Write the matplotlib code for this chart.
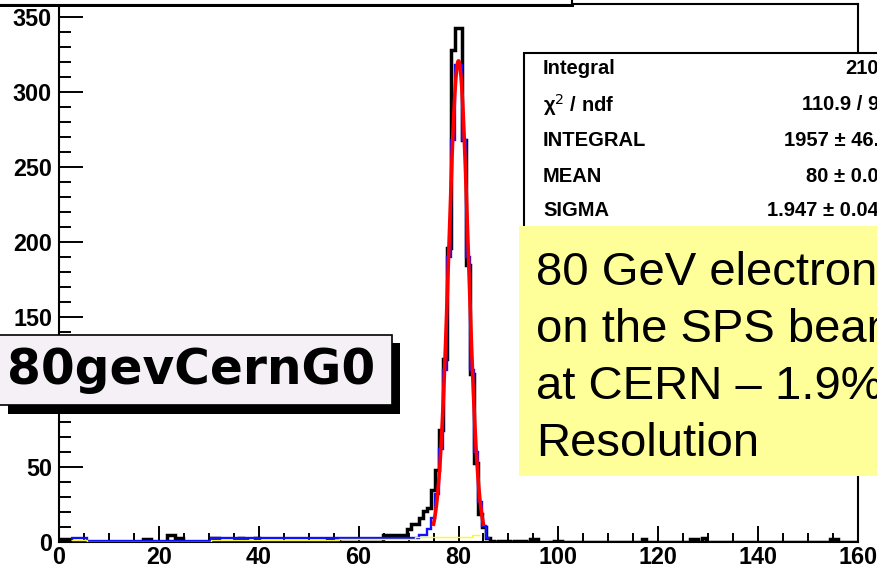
import numpy as np
import matplotlib
matplotlib.use("Agg")
import matplotlib.pyplot as plt
from matplotlib.patches import Rectangle
from matplotlib.ticker import MultipleLocator
from matplotlib.font_manager import FontProperties

# energy histogram: 200 bins of 0.8 GeV between 0 and 160
n_bins = 200
x_min, x_max = 0.0, 160.0

# non-empty bins (bin index -> entries)
filled_bins = [0, 1, 2, 21, 22, 27, 28, 29, 30, 38, 39, 44, 45, 46, 49, 67, 69,
               81, 82, 83, 84, 85, 86,
               87, 88, 89, 90, 91, 92, 93, 94, 95, 96, 97, 98, 99, 100,
               101, 102, 103, 104, 105, 106, 107, 108, 110, 111,
               112, 114, 115, 116, 118, 119, 124, 125, 146, 158, 159, 161, 193, 194]
filled_counts = [2, 2, 2, 2, 2, 5, 5, 3, 3, 3, 3, 2, 3, 2, 3, 2, 1,
                 5, 5, 5, 5, 5, 5,
                 9, 12, 12, 16, 21, 23, 35, 48, 75, 122, 196, 328, 343, 343,
                 268, 185, 112, 53, 19, 10, 3, 1, 1, 1,
                 1, 1, 1, 1, 2, 2, 1, 1, 2, 2, 2, 3, 2, 2]

# second (blue) and background (yellow) histograms
blue_edges = [2.4, 5.6, 30.4, 56.0, 72.0, 73.6, 74.4, 75.2, 76.0, 76.8, 77.6,
              78.4, 79.2, 80.0, 80.8, 81.6, 82.4, 83.2, 84.0, 84.8, 85.6, 86.4]
blue_values = [2.5, 0.5, 2.5, 3.0, 5.0, 9, 16, 32, 62, 115, 190,
               268, 318, 318, 268, 190, 115, 60, 27, 11, 3]
yellow_edges = [2.4, 5.6, 30.4, 56.0, 71.2, 82.8, 84.4]
yellow_values = [1.5, 0.3, 1.5, 2.0, 3.3, 4.7]

# gaussian fit results
fit_integral = 1957.0
fit_mean = 80.0
fit_sigma = 1.947
fit_range = (75.0, 85.0)

stat_names = ["Integral", "\u03c7$^{2}$ / ndf", "INTEGRAL", "MEAN", "SIGMA"]
stat_values = ["2103", "110.9 / 95", "1957 \u00b1 46.8", "80 \u00b1 0.05", "1.947 \u00b1 0.049"]

title = "80gevCernG0"
note_lines = ["80 GeV electrons", "on the SPS beam", "at CERN \u2013 1.9%", "Resolution"]

W, H = 877, 569
fig = plt.figure(figsize=(W / 100, H / 100), dpi=100)

# frame in pixels: left 59, right 858, top 4, bottom 542
ax = fig.add_axes([59 / W, 1 - 542 / H, (858 - 59) / W, (542 - 4) / H])

edges = np.linspace(x_min, x_max, n_bins + 1)
counts = np.zeros(n_bins)
counts[filled_bins] = filled_counts
bin_w = edges[1] - edges[0]

ax.stairs(counts, edges, color="black", lw=2.5, zorder=2)
ax.stairs(blue_values, blue_edges, color="#1010ff", lw=1.7, baseline=None, zorder=3)
ax.stairs(yellow_values, yellow_edges, color="#ffff00", lw=1.0, baseline=None, zorder=4)

xf = np.linspace(fit_range[0], fit_range[1], 300)
amp = fit_integral * bin_w / (np.sqrt(2 * np.pi) * fit_sigma)
ax.plot(xf, amp * np.exp(-0.5 * ((xf - fit_mean) / fit_sigma) ** 2),
        color="#ff0000", lw=2.6, zorder=5)

ax.set_xlim(x_min, x_max)
ax.set_ylim(0, 358.7)
ax.xaxis.set_major_locator(MultipleLocator(20))
ax.xaxis.set_minor_locator(MultipleLocator(5))
ax.yaxis.set_major_locator(MultipleLocator(50))
ax.yaxis.set_minor_locator(MultipleLocator(10))

tick_font = FontProperties(family="Liberation Sans", weight="bold", size=16.8)
ax.tick_params(axis="y", which="major", direction="in", length=17, width=1.4, pad=5)
ax.tick_params(axis="y", which="minor", direction="in", length=8.6, width=1.4)
ax.tick_params(axis="x", which="major", direction="in", length=11.5, width=1.4, pad=3)
ax.tick_params(axis="x", which="minor", direction="in", length=6.5, width=1.4)
for lab in ax.get_xticklabels() + ax.get_yticklabels():
    lab.set_fontproperties(tick_font)
for sp in ax.spines.values():
    sp.set_linewidth(1.5)


def box(x0, y0, x1, y1, **kw):
    r = Rectangle((x0 / W, 1 - y1 / H), (x1 - x0) / W, (y1 - y0) / H,
                  transform=fig.transFigure, **kw)
    fig.patches.append(r)


# title box at the top, mostly cut off
box(-10, 3, 574, 7, facecolor="black", edgecolor="none", zorder=5)
box(-10, -20, 572, 5, facecolor="white", edgecolor="black", lw=1.5, zorder=5)

# statistics box
box(524, 53, 900, 260, facecolor="white", edgecolor="black", lw=1.5, zorder=5)
row_y = [69, 105, 140, 176, 210]
for name, val, y in zip(stat_names, stat_values, row_y):
    fig.text(543 / W, 1 - y / H, name, ha="left", va="center",
             family="Liberation Sans", weight="bold", size=14.5, zorder=6)
    fig.text(890 / W, 1 - y / H, val, ha="right", va="center",
             family="Liberation Sans", weight="bold", size=14.5, zorder=6)

# yellow comment box
box(519, 226, 900, 476, facecolor="#ffff99", edgecolor="none", zorder=7)
for i, line in enumerate(note_lines):
    fig.text(536 / W, 1 - (285 + 57 * i) / H, line, ha="left", va="baseline",
             family="Liberation Sans", size=34, color="black", zorder=8)

# histogram name box with drop shadow
box(8, 343, 400, 414, facecolor="black", edgecolor="none", zorder=7)
box(-10, 335, 392, 405, facecolor="#f5f0f5", edgecolor="black", lw=1.2, zorder=8)
fig.text(7 / W, 1 - 370 / H, title, ha="left", va="center",
         family="DejaVu Sans", weight="bold", size=35, zorder=9)

fig.savefig("out.png", dpi=100)
